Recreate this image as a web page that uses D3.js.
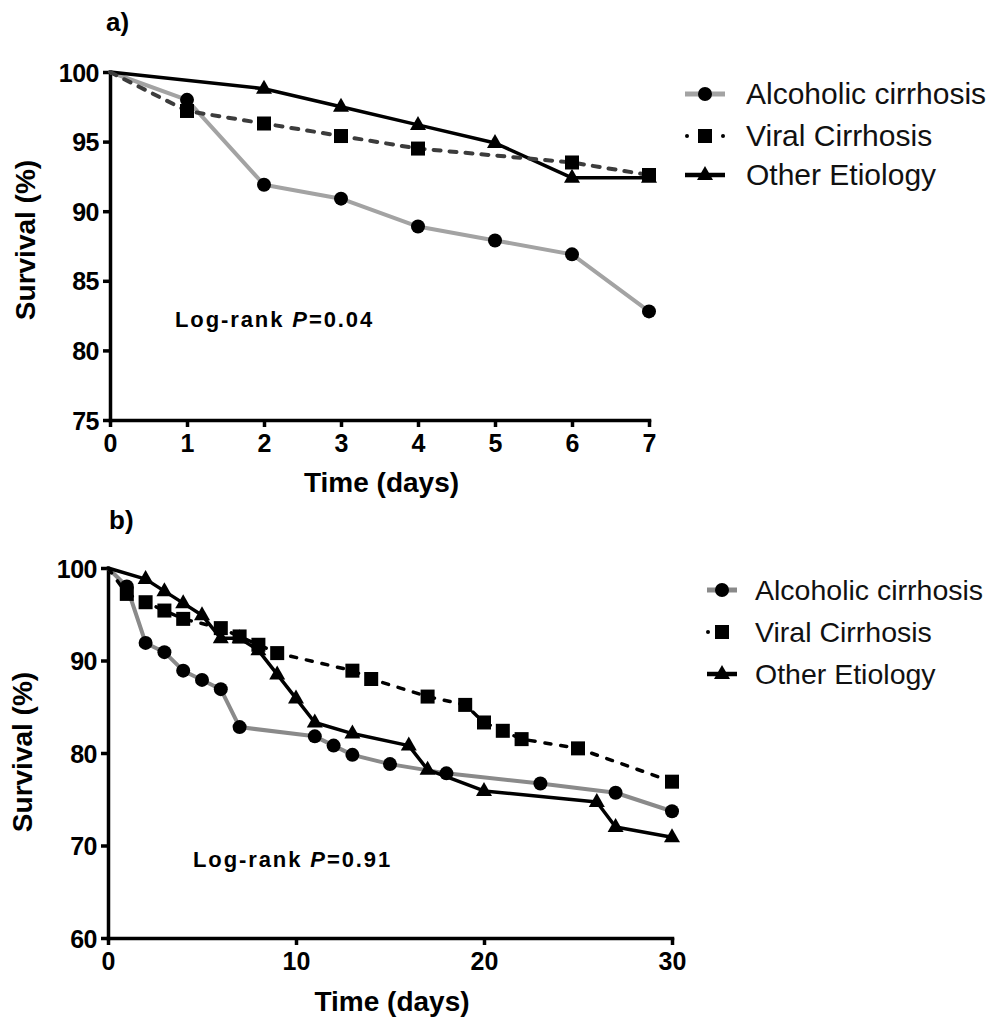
<!DOCTYPE html>
<html>
<head>
<meta charset="utf-8">
<script src="https://cdn.jsdelivr.net/npm/d3@7"></script>
<style>
  html, body { margin: 0; padding: 0; background: #fff; }
  svg { display: block; font-family: Arial, "Liberation Sans", sans-serif; }
</style>
</head>
<body>
<svg id="chart" width="992" height="1023"></svg>
<script>
// Series labels.
const alcoholicName = "Alcoholic cirrhosis";
const viralName = "Viral Cirrhosis";
const otherName = "Other Etiology";

// Panel a: first 7 days.
const daysTicksA = [0, 1, 2, 3, 4, 5, 6, 7];
const survTicksA = [75, 80, 85, 90, 95, 100];
const alcoholicDaysA = [0, 1, 2, 3, 4, 5, 6, 7];
const alcoholicSurvA = [100, 98, 91.9, 90.9, 88.9, 87.9, 86.9, 82.8];
const viralDaysA = [0, 1, 2, 3, 4, 6, 7];
const viralSurvA = [100, 97.2, 96.3, 95.4, 94.5, 93.5, 92.6];
const otherDaysA = [0, 2, 3, 4, 5, 6, 7];
const otherSurvA = [100, 98.8, 97.5, 96.2, 94.9, 92.4, 92.4];

// Panel b: 30 days.
const daysTicksB = [0, 10, 20, 30];
const survTicksB = [60, 70, 80, 90, 100];
const alcoholicDaysB = [0, 1, 2, 3, 4, 5, 6, 7, 11, 12, 13, 15, 18, 23, 27, 30];
const alcoholicSurvB = [100, 98, 91.9, 90.9, 88.9, 87.9, 86.9, 82.8, 81.8, 80.8, 79.8, 78.8, 77.8, 76.7, 75.7, 73.7];
const viralDaysB = [0, 1, 2, 3, 4, 6, 7, 8, 9, 13, 14, 17, 19, 20, 21, 22, 25, 30];
const viralSurvB = [100, 97.2, 96.3, 95.4, 94.5, 93.5, 92.6, 91.7, 90.8, 88.9, 88, 86.1, 85.2, 83.3, 82.4, 81.5, 80.5, 76.9];
const otherDaysB = [0, 2, 3, 4, 5, 6, 7, 8, 9, 10, 11, 13, 16, 17, 20, 26, 27, 30];
const otherSurvB = [100, 98.8, 97.5, 96.2, 94.9, 92.4, 92.4, 91.1, 88.5, 85.9, 83.3, 82.1, 80.8, 78.2, 75.9, 74.7, 72.0, 70.9];

const svg = d3.select("#chart");

function zip(xs, ys) {
  return xs.map((d, i) => ({ t: d, s: ys[i] }));
}

function drawMarker(g, shape, cx, cy) {
  if (shape === "circle") {
    g.append("circle").attr("cx", cx).attr("cy", cy).attr("r", 7).attr("fill", "#000");
  } else if (shape === "square") {
    g.append("rect").attr("x", cx - 7).attr("y", cy - 7).attr("width", 14).attr("height", 14).attr("fill", "#000");
  } else {
    g.append("path")
      .attr("d", `M${cx},${cy - 9} L${cx + 8},${cy + 5} L${cx - 8},${cy + 5} Z`)
      .attr("fill", "#000");
  }
}

function drawPanel(p) {
  const x = d3.scaleLinear().domain(p.xDomain).range(p.xRange);
  const y = d3.scaleLinear().domain(p.yDomain).range(p.yRange);
  const g = svg.append("g");

  // Axes.
  const xAxis = g.append("g")
    .attr("transform", `translate(0,${p.yRange[0]})`)
    .call(d3.axisBottom(x).tickValues(p.xTicks).tickFormat(d3.format("d"))
      .tickSize(7).tickSizeOuter(0).tickPadding(7));
  const yAxis = g.append("g")
    .attr("transform", `translate(${p.xRange[0]},0)`)
    .call(d3.axisLeft(y).tickValues(p.yTicks).tickFormat(d3.format("d"))
      .tickSize(7).tickSizeOuter(0).tickPadding(4));

  [xAxis, yAxis].forEach((a) => {
    a.select(".domain").attr("stroke", "#000").attr("stroke-width", 3.5).attr("stroke-linecap", "square");
    a.selectAll(".tick line").attr("stroke", "#000").attr("stroke-width", 3.5);
    a.selectAll(".tick text").attr("fill", "#000").attr("font-weight", "bold");
  });
  xAxis.selectAll(".tick text").attr("font-size", "25px");
  yAxis.selectAll(".tick text").attr("font-size", "25px").attr("dy", "0.36em").attr("letter-spacing", "-0.5px");

  // Series.
  const line = d3.line().x((d) => x(d.t)).y((d) => y(d.s));
  p.series.forEach((s) => {
    const pts = zip(s.days, s.surv);
    g.append("path")
      .attr("d", line(pts))
      .attr("fill", "none")
      .attr("stroke", s.color)
      .attr("stroke-width", s.width)
      .attr("stroke-dasharray", s.dash || null)
      .attr("stroke-linecap", s.dash ? "round" : "butt")
      .attr("stroke-linejoin", "round");
    pts.filter((d) => d.t > 0).forEach((d) => drawMarker(g, s.shape, x(d.t), y(d.s)));
  });

  // Axis titles.
  g.append("text")
    .attr("x", (p.xRange[0] + p.xRange[1]) / 2 + 2)
    .attr("y", p.xTitleY)
    .attr("text-anchor", "middle")
    .attr("font-size", "28px").attr("font-weight", "bold")
    .text("Time (days)");
  g.append("text")
    .attr("transform", `translate(${p.yTitleX},${p.yTitleY}) rotate(-90)`)
    .attr("text-anchor", "middle")
    .attr("font-size", "28px").attr("font-weight", "bold")
    .text("Survival (%)");

  // Panel label.
  g.append("text")
    .attr("x", p.label.x).attr("y", p.label.y)
    .attr("font-size", "26px").attr("font-weight", "bold")
    .text(p.label.text);

  // Log-rank annotation.
  const lr = g.append("text")
    .attr("x", p.logRank.x).attr("y", p.logRank.y)
    .attr("font-size", "22px").attr("font-weight", "bold")
    .attr("letter-spacing", "1.9px");
  lr.append("tspan").text("Log-rank ");
  lr.append("tspan").attr("font-style", "italic").text("P");
  lr.append("tspan").text("=" + p.logRank.p);

  // Legend, in fixed order.
  p.legendOrder.forEach((s, i) => {
    const ly = p.legend.rows[i];
    const x0 = p.legend.x0, x1 = p.legend.x1, xm = (x0 + x1) / 2;
    if (s.dash) {
      p.legend.dots.forEach((dx) => {
        g.append("circle").attr("cx", dx).attr("cy", ly).attr("r", 2).attr("fill", "#000");
      });
    } else {
      g.append("line")
        .attr("x1", x0).attr("x2", x1).attr("y1", ly).attr("y2", ly)
        .attr("stroke", s.color).attr("stroke-width", s.width + 1);
    }
    drawMarker(g, s.shape, xm, ly);
    g.append("text")
      .attr("x", p.legend.tx).attr("y", ly + 10)
      .attr("font-size", p.legend.fontSize)
      .attr("fill", "#111")
      .text(s.name);
  });
}

const alcA = { name: alcoholicName, days: alcoholicDaysA, surv: alcoholicSurvA, color: "#a3a3a3", width: 4, shape: "circle" };
const virA = { name: viralName, days: viralDaysA, surv: viralSurvA, color: "#3c3c3c", width: 4, dash: "7 9", shape: "square" };
const othA = { name: otherName, days: otherDaysA, surv: otherSurvA, color: "#000", width: 3.5, shape: "triangle" };

drawPanel({
  xDomain: [0, 7], xRange: [110, 649],
  yDomain: [75, 100], yRange: [420, 72],
  xTicks: daysTicksA, yTicks: survTicksA,
  xTitleY: 492, yTitleX: 35, yTitleY: 240,
  label: { text: "a)", x: 106, y: 31 },
  logRank: { x: 175, y: 327, p: "0.04" },
  legend: { x0: 685, x1: 725, tx: 746, rows: [94, 136, 175], dots: [687, 723], fontSize: "30px" },
  series: [alcA, othA, virA],
  legendOrder: [alcA, virA, othA]
});

const alcB = { name: alcoholicName, days: alcoholicDaysB, surv: alcoholicSurvB, color: "#8a8a8a", width: 4, shape: "circle" };
const virB = { name: viralName, days: viralDaysB, surv: viralSurvB, color: "#000", width: 3.5, dash: "6 10", shape: "square" };
const othB = { name: otherName, days: otherDaysB, surv: otherSurvB, color: "#000", width: 3.5, shape: "triangle" };

drawPanel({
  xDomain: [0, 30], xRange: [108, 672],
  yDomain: [60, 100], yRange: [938, 568],
  xTicks: daysTicksB, yTicks: survTicksB,
  xTitleY: 1011, yTitleX: 32, yTitleY: 752,
  label: { text: "b)", x: 109, y: 529 },
  logRank: { x: 193, y: 867, p: "0.91" },
  legend: { x0: 707, x1: 737, tx: 755, rows: [590, 632, 674], dots: [708], fontSize: "28.5px" },
  series: [alcB, othB, virB],
  legendOrder: [alcB, virB, othB]
});
</script>
</body>
</html>
